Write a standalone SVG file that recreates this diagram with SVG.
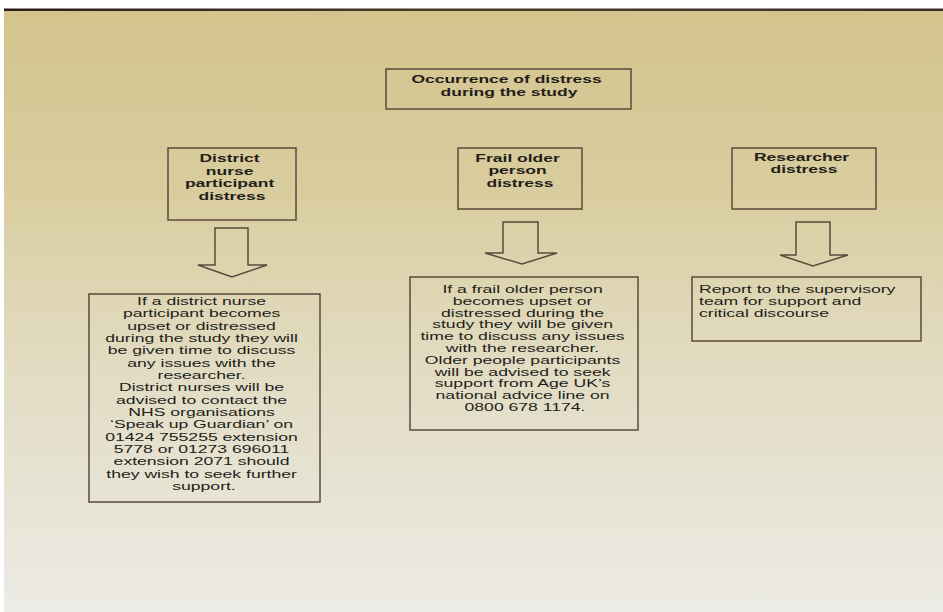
<svg xmlns="http://www.w3.org/2000/svg" width="943" height="612" viewBox="0 0 943 612">
  <defs>
    <linearGradient id="bg" x1="0" y1="0" x2="0" y2="1">
      <stop offset="0" stop-color="#d4c48c"/>
      <stop offset="0.3" stop-color="#d9cd9f"/>
      <stop offset="0.6" stop-color="#e2dcc3"/>
      <stop offset="1" stop-color="#ecebe5"/>
    </linearGradient>
    <linearGradient id="edge" x1="0" y1="0" x2="1" y2="0">
      <stop offset="0" stop-color="#2a2018"/>
      <stop offset="0.5" stop-color="#4a3a2a"/>
      <stop offset="1" stop-color="#3a3028"/>
    </linearGradient>
  </defs>
  <style>
    .box { fill: none; stroke: #5b4a3c; stroke-width: 1.5; }
    .arrow { fill: none; stroke: #5b4a3c; stroke-width: 1.5; stroke-linejoin: miter; }
    .hd { font-family: "Liberation Sans", Arial, sans-serif; font-size: 10.8px; font-weight: bold; fill: #231e1a; text-anchor: middle; }
    .bd { font-family: "Liberation Sans", Arial, sans-serif; font-size: 11px; fill: #231e1a; text-anchor: middle; }
    .bdl { font-family: "Liberation Sans", Arial, sans-serif; font-size: 11px; fill: #231e1a; text-anchor: start; }
  </style>
  <rect x="0" y="0" width="943" height="612" fill="#ffffff"/>
  <rect x="4" y="10" width="939" height="602" fill="url(#bg)"/>
  <rect x="4" y="8.5" width="939" height="2.5" fill="url(#edge)"/>

  <g id="connectors">
    <polygon class="arrow" points="215,228 248,228 248,265 267,265 232,277 198,265 215,265"/>
    <polygon class="arrow" points="503,222 538,222 538,253 557,253 522,264 485,253 503,253"/>
    <polygon class="arrow" points="796,222 830,222 830,255 848,255 813,266 780,255 796,255"/>
  </g>

  <g id="occurrence">
    <rect class="box" x="386" y="69" width="245" height="40"/>
    <text class="hd" transform="matrix(1.62 0 0 1 509 0)">
      <tspan x="0" y="83">Occurrence of distress</tspan>
      <tspan x="0" y="96">during the study</tspan>
    </text>
  </g>

  <g id="district-heading">
    <rect class="box" x="168" y="148" width="128" height="72"/>
    <text class="hd" transform="matrix(1.62 0 0 1 232 0)">
      <tspan x="0" y="162">District</tspan>
      <tspan x="0" y="175">nurse</tspan>
      <tspan x="0" y="187.5">participant</tspan>
      <tspan x="0" y="200">distress</tspan>
    </text>
  </g>

  <g id="frail-heading">
    <rect class="box" x="458" y="148" width="124" height="61"/>
    <text class="hd" transform="matrix(1.62 0 0 1 520 0)">
      <tspan x="0" y="162">Frail older</tspan>
      <tspan x="0" y="174.5">person</tspan>
      <tspan x="0" y="187">distress</tspan>
    </text>
  </g>

  <g id="researcher-heading">
    <rect class="box" x="732" y="148" width="144" height="61"/>
    <text class="hd" transform="matrix(1.62 0 0 1 804 0)">
      <tspan x="0" y="161">Researcher</tspan>
      <tspan x="0" y="173.5">distress</tspan>
    </text>
  </g>

  <g id="district-body">
    <rect class="box" x="89" y="294" width="231" height="208"/>
    <text class="bd" transform="matrix(1.6 0 0 1 204 0)">
      <tspan x="0" y="305">If a district nurse</tspan>
      <tspan x="0" y="317.3">participant becomes</tspan>
      <tspan x="0" y="329.7">upset or distressed</tspan>
      <tspan x="0" y="342">during the study they will</tspan>
      <tspan x="0" y="354.3">be given time to discuss</tspan>
      <tspan x="0" y="366.7">any issues with the</tspan>
      <tspan x="0" y="379">researcher.</tspan>
      <tspan x="0" y="391.3">District nurses will be</tspan>
      <tspan x="0" y="403.7">advised to contact the</tspan>
      <tspan x="0" y="416">NHS organisations</tspan>
      <tspan x="0" y="428.3">‘Speak up Guardian’ on</tspan>
      <tspan x="0" y="440.7">01424 755255 extension</tspan>
      <tspan x="0" y="453">5778 or 01273 696011</tspan>
      <tspan x="0" y="465.3">extension 2071 should</tspan>
      <tspan x="0" y="477.7">they wish to seek further</tspan>
      <tspan x="0" y="490">support.</tspan>
    </text>
  </g>

  <g id="frail-body">
    <rect class="box" x="410" y="277" width="228" height="153"/>
    <text class="bd" transform="matrix(1.6 0 0 1 525 0)">
      <tspan x="0" y="293">If a frail older person</tspan>
      <tspan x="0" y="304.8">becomes upset or</tspan>
      <tspan x="0" y="316.6">distressed during the</tspan>
      <tspan x="0" y="328.4">study they will be given</tspan>
      <tspan x="0" y="340.2">time to discuss any issues</tspan>
      <tspan x="0" y="352">with the researcher.</tspan>
      <tspan x="0" y="363.8">Older people participants</tspan>
      <tspan x="0" y="375.6">will be advised to seek</tspan>
      <tspan x="0" y="387.4">support from Age UK’s</tspan>
      <tspan x="0" y="399.2">national advice line on</tspan>
      <tspan x="0" y="411">0800 678 1174.</tspan>
    </text>
  </g>

  <g id="researcher-body">
    <rect class="box" x="692" y="277" width="229" height="64"/>
    <text class="bdl" transform="matrix(1.6 0 0 1 699 0)">
      <tspan x="0" y="293">Report to the supervisory</tspan>
      <tspan x="0" y="305">team for support and</tspan>
      <tspan x="0" y="317">critical discourse</tspan>
    </text>
  </g>
</svg>
